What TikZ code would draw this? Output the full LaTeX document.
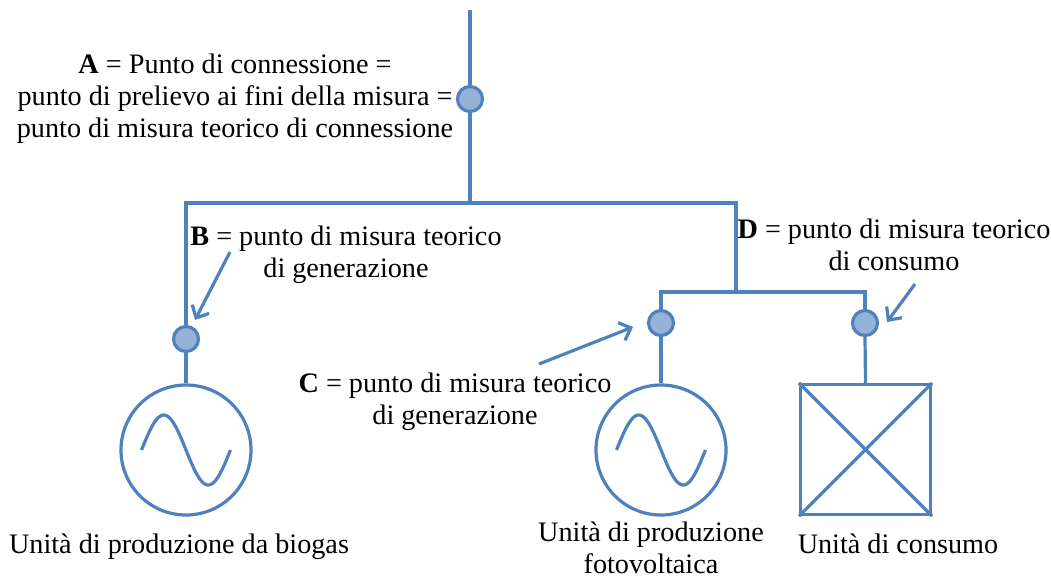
\documentclass[tikz,border=0pt]{standalone}
\usepackage{fontspec}
\setmainfont{Liberation Serif}
\usetikzlibrary{arrows.meta}
\definecolor{lineblue}{RGB}{79,129,189}
\definecolor{fillblue}{RGB}{149,179,215}
\begin{document}
\begin{tikzpicture}[x=1pt,y=-1pt,
  wire/.style={draw=lineblue,line width=3.2pt},
  meter/.style={circle,draw=lineblue,fill=fillblue,line width=3.2pt,minimum size=25pt,inner sep=0pt},
  gen/.style={circle,draw=lineblue,line width=3.2pt,minimum size=130pt,inner sep=0pt},
  load/.style={rectangle,draw=lineblue,line width=3.2pt,minimum size=130pt,inner sep=0pt},
  pointer/.style={draw=lineblue,line width=3.2pt,-{Straight Barb[length=10pt,width=19pt]}},
  lbl/.style={font=\fontsize{28.2}{32}\selectfont,align=center,inner sep=0pt}]
\useasboundingbox (0,0) rectangle (1051,579);

% meters
\node[meter] (A) at (470,99) {};
\node[meter] (B) at (186,339) {};
\node[meter] (C) at (661,323) {};
\node[meter] (D) at (865,323) {};
% units
\node[gen] (G1) at (186,450) {};
\node[gen] (G2) at (661,450) {};
\node[load] (L) at (865.5,449.5) {};

% junction coordinates
\coordinate (top) at (470,10);
\coordinate (jA) at (470,203);
\coordinate (jL) at (186,203);
\coordinate (jR) at (736,203);
\coordinate (jR2) at (736,292);
\coordinate (jC) at (661,292);
\coordinate (jD) at (865,292);

% wiring
\draw[wire] (top) -- (A.north);
\draw[wire] (A.south) -- (jA);
\draw[wire] (B.north) -- (jL) -- (jR) -- (jR2);
\draw[wire] (C.north) -- (jC) -- (jD) -- (D.north);
\draw[wire] (B.south) -- (G1.north);
\draw[wire] (C.south) -- (G2.north);
\draw[wire] (D.south) -- (L.north);

% load cross
\draw[wire] (L.north west) -- (L.south east);
\draw[wire] (L.north east) -- (L.south west);

% sine waves
\begin{scope}[shift={(G1.center)}]
\draw[wire] plot[domain=-44.5:44.5,samples=60,smooth] (\x,{35*sin(360*\x/89)});
\end{scope}
\begin{scope}[shift={(G2.center)}]
\draw[wire] plot[domain=-44.5:44.5,samples=60,smooth] (\x,{35*sin(360*\x/89)});
\end{scope}

% pointer arrows
\coordinate (bS) at (230,252);
\coordinate (bE) at (195,320);
\coordinate (cS) at (539,364);
\coordinate (cE) at (633,327);
\coordinate (dS) at (915,284);
\coordinate (dE) at (887,322);
\draw[pointer] (bS) -- (bE);
\draw[pointer] (cS) -- (cE);
\draw[pointer] (dS) -- (dE);

% labels
\node[lbl] (tA) at (235,98.5) {\textbf{A} = Punto di connessione =\\punto di prelievo ai fini della misura =\\punto di misura teorico di connessione};
\node[lbl] (tB) at (346,254.5) {\textbf{B} = punto di misura teorico\\di generazione};
\node[lbl] (tC) at (455,401.5) {\textbf{C} = punto di misura teorico\\di generazione};
\node[lbl] (tD) at (894,245) {\textbf{D} = punto di misura teorico\\di consumo};
\node[lbl,anchor=base] (tG1) at (179,553) {Unità di produzione da biogas};
\node[lbl] (tG2) at (651,547.5) {Unità di produzione\\fotovoltaica};
\node[lbl,anchor=base] (tL) at (898,553) {Unità di consumo};
\end{tikzpicture}
\end{document}
